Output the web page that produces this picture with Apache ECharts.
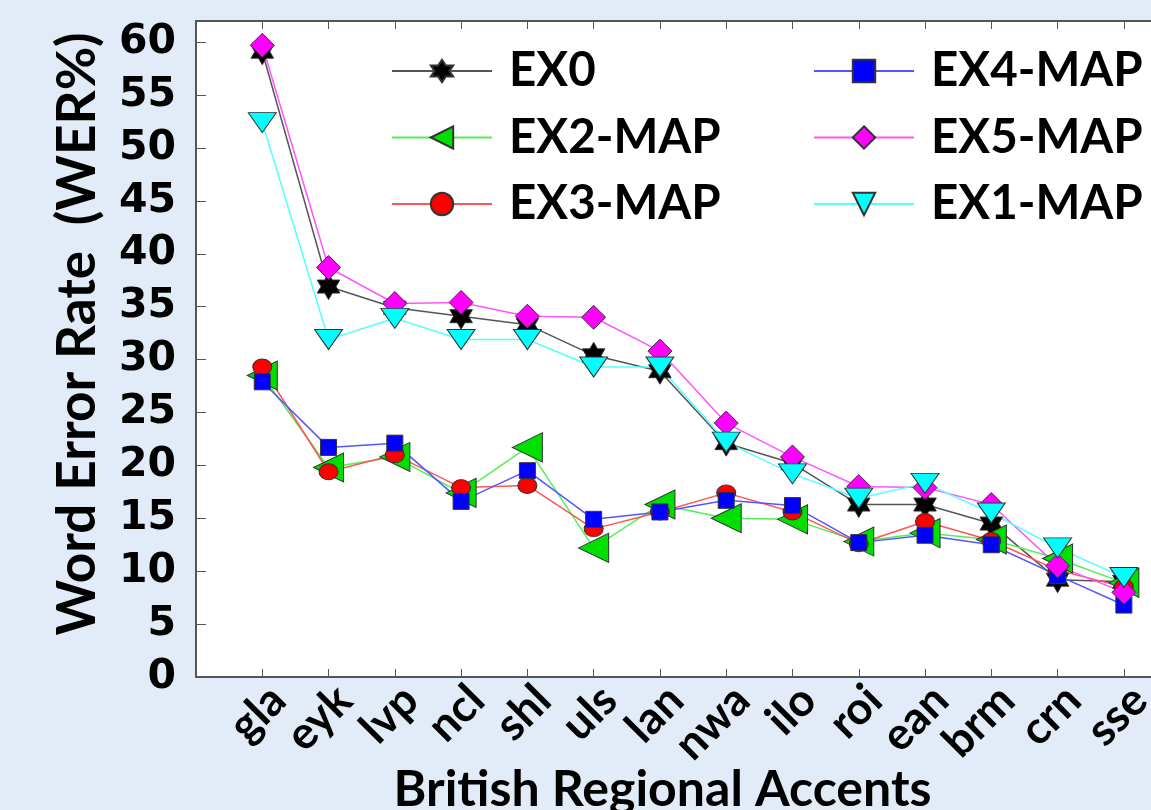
<!DOCTYPE html>
<html>
<head>
<meta charset="utf-8">
<script src="https://cdn.jsdelivr.net/npm/echarts@6/dist/echarts.min.js"></script>
<style>
html,body{margin:0;padding:0;background:#e2ecf8;}
#chart{width:1151px;height:810px;}
</style>
</head>
<body>
<div id="chart"></div>
<script>
const categories = ['gla','eyk','lvp','ncl','shl','uls','lan','nwa','ilo','roi','ean','brm','crn','sse'];
const yTicks = [0,5,10,15,20,25,30,35,40,45,50,55,60];
const EX0     = [59.1, 36.9, 34.9, 34.1, 33.3, 30.4, 28.9, 22.1, 20.2, 16.3, 16.3, 14.5, 9.2, 9.0];
const EX2_MAP = [28.5, 19.8, 20.8, 17.4, 21.7, 12.2, 16.3, 15.0, 14.9, 12.8, 13.6, 13.0, 11.2, 8.9];
const EX3_MAP = [29.3, 19.4, 21.0, 17.9, 18.1, 14.0, 15.6, 17.4, 15.6, 12.6, 14.7, 12.9, 10.1, 8.5];
const EX4_MAP = [27.9, 21.7, 22.1, 16.6, 19.5, 14.9, 15.6, 16.7, 16.2, 12.7, 13.4, 12.5, 9.6, 6.8];
const EX5_MAP = [59.7, 38.7, 35.3, 35.4, 34.1, 34.0, 30.8, 24.0, 20.8, 18.0, 17.9, 16.3, 10.5, 8.0];
const EX1_MAP = [52.4, 31.9, 33.9, 31.9, 31.9, 29.3, 29.3, 22.2, 19.2, 16.9, 18.3, 15.5, 12.2, 9.4];

const star6 = 'path://M0,-1L0.2887,-0.5L0.866,-0.5L0.5774,0L0.866,0.5L0.2887,0.5L0,1L-0.2887,0.5L-0.866,0.5L-0.5774,0L-0.866,-0.5L-0.2887,-0.5Z';

function pts(arr){ return arr.map((v,i)=>[i,v]); }
function mk(name, data, lineColor, fill, symbol, size, rot){
  return {
    name: name, type:'line', data: pts(data),
    symbol: symbol, symbolSize: size, symbolRotate: rot || 0, symbolKeepAspect: symbol===star6,
    showAllSymbol: true,
    lineStyle:{color: lineColor, width: 1.5},
    itemStyle:{color: fill, borderColor:'#333', borderWidth:1},
    emphasis:{disabled:true},
    animation:false
  };
}

const chart = echarts.init(document.getElementById('chart'), null, {renderer:'canvas'});
const legendText = {fontFamily:'Lato', fontWeight:'bold', fontSize:47.5, lineHeight:48, color:'#000', padding:[0,0,0,12]};
const option = {
  backgroundColor:'#e2ecf8',
  animation:false,
  grid:{left:196, top:21, bottom:133, right:-6, show:true, backgroundColor:'#ffffff', borderWidth:0, outerBoundsMode:'none', containLabel:false},
  legend:[
    {data:['EX0','EX2-MAP','EX3-MAP'], orient:'vertical', left:386, top:42, itemWidth:100, itemHeight:28, itemGap:18.5, textStyle:legendText, selectedMode:false},
    {data:['EX4-MAP','EX5-MAP','EX1-MAP'], orient:'vertical', left:808, top:42, itemWidth:100, itemHeight:28, itemGap:18.5, textStyle:legendText, selectedMode:false}
  ],
  xAxis:[
    {type:'value', min:-1, max:13.5, interval:1, position:'bottom',
     name:'British Regional Accents', nameLocation:'middle', nameGap:88, nameMoveOverlap:false,
     nameTextStyle:{fontFamily:'Lato', fontWeight:'bold', fontSize:50, color:'#000', padding:[0,28,0,0]},
     axisLine:{show:true, onZero:false, lineStyle:{color:'#555', width:2}},
     axisTick:{show:true, inside:true, length:8, lineStyle:{color:'#555', width:1}},
     splitLine:{show:false},
     axisLabel:{rotate:45, margin:0, verticalAlign:'top', fontFamily:'Lato', fontWeight:'bold', fontSize:45, color:'#000',
       formatter:function(v){ return (Number.isInteger(v) && v>=0 && v<categories.length) ? categories[v] : ''; }}
    },
    {type:'value', min:-1, max:13.5, interval:1, position:'top',
     axisLine:{show:true, onZero:false, lineStyle:{color:'#555', width:2}},
     axisTick:{show:true, inside:true, length:8, lineStyle:{color:'#555', width:1}},
     axisLabel:{show:false}, splitLine:{show:false}
    }
  ],
  yAxis:{type:'value', min:0, max:62, interval:5,
    name:'Word Error Rate  (WER%)', nameLocation:'middle', nameGap:92,
    nameTextStyle:{fontFamily:'Lato', fontWeight:'bold', fontSize:53, color:'#000', padding:[0,0,0,30]},
    axisLine:{show:true, onZero:false, lineStyle:{color:'#555', width:2}},
    axisTick:{show:true, inside:true, length:10, lineStyle:{color:'#555', width:1}},
    splitLine:{show:false},
    axisLabel:{margin:20, fontFamily:'DejaVu Sans', fontWeight:'bold', fontSize:41, color:'#000',
      formatter:function(v){ return yTicks.indexOf(v)>=0 ? String(v) : ''; }}
  },
  series:[
    mk('EX0', EX0, '#555555', '#000000', star6, 26, 0),
    mk('EX2-MAP', EX2_MAP, '#55ee55', '#00e000', 'triangle', [29,30], 90),
    mk('EX3-MAP', EX3_MAP, '#ff5555', '#ff0000', 'circle', [19,16], 0),
    mk('EX4-MAP', EX4_MAP, '#5555ff', '#0000ff', 'rect', 16, 0),
    mk('EX5-MAP', EX5_MAP, '#ff55ff', '#ff00ff', 'diamond', 24, 0),
    mk('EX1-MAP', EX1_MAP, '#55ffff', '#00ffff', 'triangle', [28,20], 180)
  ]
};
chart.setOption(option);
</script>
</body>
</html>
